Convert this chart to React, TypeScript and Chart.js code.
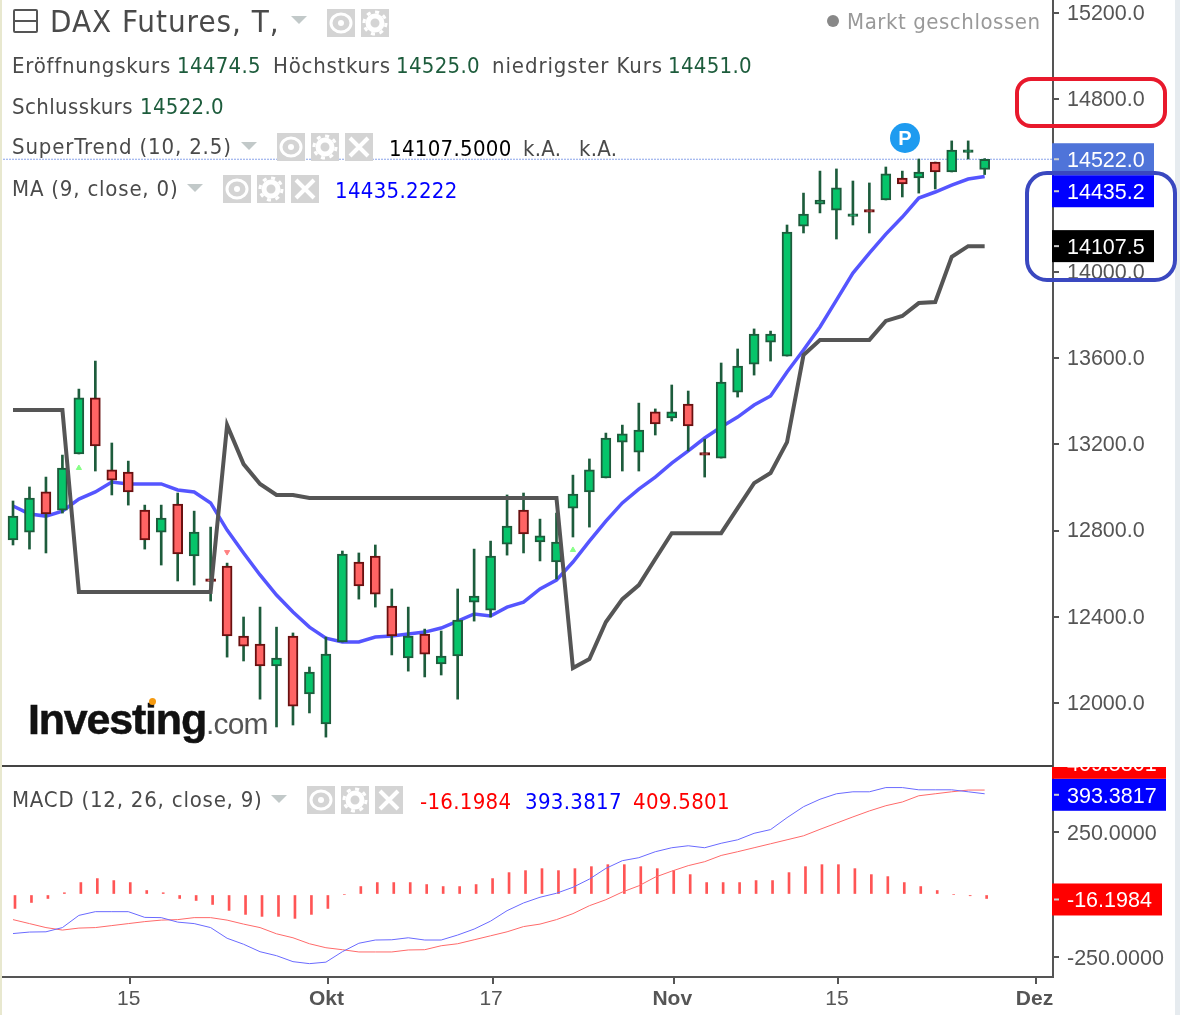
import React, { useEffect, useRef } from 'react';
import { Chart, registerables } from 'chart.js';

Chart.register(...registerables);

// daily candles
const opens = [12756, 12793, 12979, 12895, 13155, 13415, 13081, 13071, 12895, 12793, 12923, 12682, 12576, 12635, 12311, 12274, 12172, 12311, 12042, 11903, 12283, 12654, 12682, 12450, 12209, 12320, 12181, 12218, 12468, 12431, 12737, 12895, 12747, 12654, 12904, 12979, 13044, 13210, 13164, 13350, 13322, 13387, 13161, 13136, 13442, 13572, 13674, 13609, 14212, 14314, 14286, 14257, 14288, 14333, 14435, 14435, 14509, 14463, 14554, 14474.5];
const highs = [12937, 13002, 13048, 13150, 13456, 13586, 13206, 13122, 12918, 12918, 12974, 12890, 12816, 12649, 12399, 12445, 12352, 12325, 12167, 12306, 12705, 12696, 12733, 12529, 12445, 12343, 12334, 12529, 12714, 12751, 12965, 12974, 12853, 12881, 13057, 13132, 13252, 13289, 13391, 13364, 13475, 13447, 13224, 13577, 13642, 13735, 13725, 14217, 14365, 14467, 14477, 14421, 14412, 14486, 14467, 14523, 14509, 14607, 14607, 14525];
const lows = [12733, 12714, 12696, 12881, 13155, 13076, 12965, 12918, 12714, 12640, 12566, 12547, 12473, 12213, 12195, 12018, 11889, 11898, 11954, 11842, 12283, 12482, 12445, 12223, 12148, 12121, 12130, 12018, 12380, 12399, 12686, 12696, 12659, 12575, 12770, 12816, 13044, 13076, 13076, 13243, 13308, 13169, 13048, 13136, 13419, 13521, 13586, 13609, 14180, 14273, 14152, 14217, 14180, 14333, 14347, 14365, 14384, 14463, 14523, 14451];
const closes = [12867, 12951, 12877, 13090, 13415, 13192, 13034, 12979, 12756, 12858, 12691, 12793, 12564, 12311, 12264, 12172, 12209, 11986, 12144, 12227, 12691, 12543, 12505, 12311, 12311, 12227, 12218, 12385, 12496, 12682, 12821, 12784, 12775, 12747, 12969, 13081, 13229, 13248, 13266, 13294, 13350, 13285, 13149, 13489, 13563, 13711, 13711, 14184, 14268, 14333, 14389, 14269, 14276, 14454, 14407, 14463, 14463, 14565, 14566, 14522];

const superTrend = [13359, 13359, 13359, 13359, 12515, 12515, 12515, 12515, 12515, 12515, 12515, 12515, 12515, 13289, 13108, 13016, 12965, 12965, 12951, 12951, 12951, 12951, 12951, 12951, 12951, 12951, 12951, 12951, 12951, 12951, 12951, 12951, 12951, 12951, 12162, 12204, 12376, 12482, 12547, 12668, 12788, 12788, 12788, 12788, 12904, 13020, 13067, 13210, 13614, 13684, 13684, 13684, 13684, 13772, 13795, 13855, 13860, 14069, 14119, 14119];
const movingAvg = [12914, 12877, 12867, 12890, 12946, 12979, 13025, 13016, 13016, 13016, 12988, 12979, 12928, 12802, 12696, 12594, 12501, 12422, 12352, 12301, 12283, 12283, 12306, 12311, 12320, 12329, 12348, 12380, 12413, 12404, 12445, 12468, 12529, 12570, 12654, 12751, 12844, 12928, 12992, 13048, 13113, 13169, 13229, 13280, 13326, 13382, 13424, 13535, 13637, 13744, 13869, 13994, 14087, 14175, 14254, 14342, 14370, 14402, 14430, 14442];

const macdLine = [-157, -151, -150, -133, -84, -69, -69, -69, -92, -93, -111, -117, -133, -176, -200, -230, -246, -270, -278, -272, -230, -196, -183, -182, -174, -183, -183, -163, -139, -107, -65, -34, -11, 5, 29, 62, 105, 136, 148, 172, 188, 196, 188, 206, 220, 246, 261, 309, 353, 383, 405, 413, 413, 430, 430, 421, 421, 421, 413, 405];
const signalLine = [-101, -117, -133, -143, -135, -133, -125, -117, -109, -103, -101, -93, -93, -103, -119, -133, -158, -174, -198, -214, -222, -231, -231, -231, -223, -222, -206, -198, -182, -166, -150, -129, -119, -101, -77, -45, -21, 10, 35, 70, 94, 116, 132, 157, 172, 188, 204, 220, 236, 262, 287, 312, 336, 357, 372, 397, 405, 413, 420, 420];
const macdHist = [-56, -32, -16, 7, 48, 64, 56, 48, 16, 7, -16, -24, -40, -64, -80, -88, -88, -96, -80, -56, 0, 32, 48, 48, 48, 40, 32, 32, 40, 64, 88, 96, 104, 96, 104, 112, 120, 120, 112, 104, 96, 80, 48, 48, 48, 56, 56, 88, 112, 120, 120, 104, 80, 72, 48, 32, 16, 0, -5, -16];

const buyIdx = [4, 34];
const buyVal = [13090, 12710];
const sellIdx = [13];
const sellVal = [12700];

const xTickIdx = [7, 19, 29, 40, 50, 62];
const xTickLabels = ['15', 'Okt', '17', 'Nov', '15', 'Dez'];
const priceTicks = [12000, 12400, 12800, 13200, 13600, 14000, 14400, 14800, 15200];
const macdTicks = [-250, 0, 250];

const AXIS = '#555555';
const TICK_FONT = '"Liberation Sans", Arial, sans-serif';
const UI_FONT = '"DejaVu Sans Condensed", "DejaVu Sans", sans-serif';
const BAR_SHIFT = 0.12; // histogram and date ticks sit ~2px right of the candles

const last = (a: number[]) => a[a.length - 1];

const tagPlugin = {
  id: 'tags',
  afterDraw(chart: any) {
    const { ctx, scales } = chart;
    const drawGroup = (scale: any, tags: any[], right: number, dy: number) => {
      const placed: number[] = [];
      ctx.save();
      ctx.beginPath();
      ctx.rect(1052, scale.top + 1, 128, scale.bottom - scale.top);
      ctx.clip();
      tags.forEach((t) => {
        let y = scale.getPixelForValue(t.value) + dy;
        placed.forEach((p) => {
          if (Math.abs(y - p) < 32) y = y > p ? p + 32 : p - 32;
        });
        placed.push(y);
        ctx.fillStyle = t.bg;
        ctx.fillRect(1052, y - 16, (t.right || right) - 1052, 32);
        ctx.fillStyle = '#cccccc';
        ctx.fillRect(1054, y - 1, 5, 2);
        ctx.fillStyle = '#ffffff';
        ctx.font = '21.5px ' + TICK_FONT;
        ctx.textAlign = 'left';
        ctx.textBaseline = 'middle';
        ctx.fillText(t.text, 1067, y + 2);
      });
      ctx.restore();
    };
    drawGroup(scales.price, [
      { value: last(closes), text: '14522.0', bg: '#4f74d9' },
      { value: last(movingAvg), text: '14435.2', bg: '#0000ff' },
      { value: last(superTrend), text: '14107.5', bg: '#000000' },
    ], 1154, 0);
    drawGroup(scales.macd, [
      { value: last(macdHist), text: '-16.1984', bg: '#ff0000', right: 1162 },
      { value: last(macdLine), text: '393.3817', bg: '#0000ff' },
      { value: last(signalLine), text: '409.5801', bg: '#ff0000' },
    ], 1166, 1);
    ctx.fillStyle = '#444444';
    ctx.fillRect(0, scales.price.bottom - 1, 1053, 2);
  },
};

function Txt({ x, y, c = '#4a4a4a', s = 22, ls = 0.75, children }: any) {
  return (
    <div style={{ position: 'absolute', left: x, top: y - 18, height: 40, lineHeight: '40px', color: c, fontSize: s, letterSpacing: ls, fontFamily: UI_FONT, fontStretch: 'condensed', whiteSpace: 'nowrap' }}>
      {children}
    </div>
  );
}

function Tri({ x, y }: any) {
  return <div style={{ position: 'absolute', left: x, top: y, width: 0, height: 0, borderLeft: '8px solid transparent', borderRight: '8px solid transparent', borderTop: '8px solid #c2c9c9' }} />;
}

function IconBox({ x, y, kind }: any) {
  return (
    <svg style={{ position: 'absolute', left: x, top: y }} width={28} height={28}>
      <rect width={28} height={28} fill="#d4d4d4" />
      {kind === 'eye' && <ellipse cx={14} cy={14} rx={10} ry={9} fill="none" stroke="#fff" strokeWidth={3} />}
      {kind === 'eye' && <circle cx={14} cy={14} r={3} fill="#fff" />}
      {kind === 'gear' && <circle cx={14} cy={14} r={7} fill="none" stroke="#fff" strokeWidth={5} />}
      {kind === 'gear' && <circle cx={14} cy={14} r={11} fill="none" stroke="#fff" strokeWidth={3} strokeDasharray="4 4.6" />}
      {kind === 'x' && <path d="M5 5L23 23M23 5L5 23" stroke="#fff" strokeWidth={4} />}
    </svg>
  );
}

function Icons({ x, y, close = true }: any) {
  return (
    <>
      <IconBox x={x} y={y} kind="eye" />
      <IconBox x={x + 34} y={y} kind="gear" />
      {close && <IconBox x={x + 68} y={y} kind="x" />}
    </>
  );
}

export default function App() {
  const canvasRef = useRef<HTMLCanvasElement>(null);

  useEffect(() => {
    if (!canvasRef.current) return;
    const idx = opens.map((_, i) => i);
    const up = (i: number) => closes[i] >= opens[i];
    const xMin = -0.79;
    const xMax = 63.15;

    const chart = new Chart(canvasRef.current, {
      type: 'bar',
      data: {
        datasets: [
          {
            type: 'line',
            label: 'MA',
            yAxisID: 'price',
            data: idx.map((i) => ({ x: i, y: movingAvg[i] })),
            borderColor: '#5555ff',
            borderWidth: 3.5,
            pointRadius: 0,
            order: 6,
          },
          {
            type: 'line',
            label: 'Last',
            yAxisID: 'price',
            data: [{ x: xMin, y: last(closes) }, { x: xMax, y: last(closes) }],
            borderColor: '#8aa3ea',
            borderWidth: 1,
            borderDash: [2, 1],
            pointRadius: 0,
            order: 7,
          },
          {
            label: 'Wick',
            yAxisID: 'price',
            data: idx.map((i) => ({ x: i, y: [lows[i], highs[i]] })),
            backgroundColor: '#1d5c3c',
            barThickness: 2,
            grouped: false,
            order: 5,
          },
          {
            label: 'Body',
            yAxisID: 'price',
            data: idx.map((i) => ({ x: i, y: [opens[i], closes[i]] })),
            backgroundColor: idx.map((i) => (up(i) ? '#06c46a' : '#ff6464')),
            borderColor: idx.map((i) => (up(i) ? '#1d5c3c' : '#6a1010')),
            borderWidth: 2,
            borderSkipped: false,
            barThickness: 10,
            grouped: false,
            order: 4,
          },
          {
            type: 'line',
            label: 'SuperTrend',
            yAxisID: 'price',
            data: idx.map((i) => ({ x: i, y: superTrend[i] })),
            borderColor: '#555555',
            borderWidth: 4,
            pointRadius: 0,
            order: 3,
          },
          {
            type: 'line',
            label: 'Buy',
            yAxisID: 'price',
            data: buyIdx.map((v, i) => ({ x: v, y: buyVal[i] })),
            showLine: false,
            pointStyle: 'triangle',
            pointRadius: 3,
            pointBackgroundColor: '#86ff86',
            pointBorderColor: '#86ff86',
            order: 2,
          },
          {
            type: 'line',
            label: 'Sell',
            yAxisID: 'price',
            data: sellIdx.map((v, i) => ({ x: v, y: sellVal[i] })),
            showLine: false,
            pointStyle: 'triangle',
            pointRotation: 180,
            pointRadius: 3,
            pointBackgroundColor: '#ff8080',
            pointBorderColor: '#ff8080',
            order: 2,
          },
          {
            label: 'Hist',
            yAxisID: 'macd',
            data: idx.map((i) => ({ x: i + BAR_SHIFT, y: macdHist[i] })),
            backgroundColor: '#ff5555',
            barThickness: 2,
            grouped: false,
            order: 3,
          },
          {
            type: 'line',
            label: 'Signal',
            yAxisID: 'macd',
            data: idx.map((i) => ({ x: i, y: signalLine[i] })),
            borderColor: '#ff6a6a',
            borderWidth: 1,
            pointRadius: 0,
            order: 2,
          },
          {
            type: 'line',
            label: 'MACD',
            yAxisID: 'macd',
            data: idx.map((i) => ({ x: i, y: macdLine[i] })),
            borderColor: '#6a6aff',
            borderWidth: 1,
            pointRadius: 0,
            order: 1,
          },
        ],
      } as any,
      options: {
        animation: false,
        responsive: false,
        maintainAspectRatio: false,
        layout: { padding: 0, autoPadding: false },
        plugins: { legend: { display: false }, tooltip: { enabled: false } },
        scales: {
          x: {
            type: 'linear',
            offset: false,
            min: xMin,
            max: xMax,
            grid: { offset: false, drawOnChartArea: false, color: AXIS, tickLength: 7, lineWidth: 2 },
            border: { color: AXIS, width: 2 },
            afterBuildTicks: (s: any) => { s.ticks = xTickIdx.map((v) => ({ value: v + BAR_SHIFT })); },
            afterFit: (s: any) => { s.height = 38; s.paddingLeft = 0; s.paddingRight = 0; },
            ticks: {
              autoSkip: false,
              maxRotation: 0,
              padding: 3,
              labelOffset: -1.5,
              color: AXIS,
              font: (ctx: any) => {
                const label = xTickLabels[ctx.index];
                return { family: TICK_FONT, size: 21, weight: label && /[a-z]/.test(label) ? 'bold' : 'normal' };
              },
              callback: (_v: any, i: number) => xTickLabels[i] ?? '',
            },
          },
          price: {
            type: 'linear',
            position: 'right',
            stack: 'panels',
            stackWeight: 766,
            min: 11708,
            max: 15260.5,
            grid: { drawOnChartArea: false, color: AXIS, tickLength: 6, lineWidth: 2 },
            border: { color: AXIS, width: 2 },
            afterBuildTicks: (s: any) => { s.ticks = priceTicks.map((v) => ({ value: v })); },
            afterFit: (s: any) => { s.width = 127; s.paddingTop = 0; s.paddingBottom = 0; },
            ticks: { padding: 8, labelOffset: 1, color: AXIS, font: { family: TICK_FONT, size: 21.5 }, callback: (v: any) => Number(v).toFixed(1) },
          },
          macd: {
            type: 'linear',
            position: 'right',
            stack: 'panels',
            stackWeight: 211,
            min: -331.7,
            max: 516.7,
            grid: { drawOnChartArea: false, color: AXIS, tickLength: 6, lineWidth: 2 },
            border: { color: AXIS, width: 2 },
            afterBuildTicks: (s: any) => { s.ticks = macdTicks.map((v) => ({ value: v })); },
            afterFit: (s: any) => { s.width = 127; s.paddingTop = 0; s.paddingBottom = 0; },
            ticks: { padding: 8, labelOffset: 2, color: AXIS, font: { family: TICK_FONT, size: 21.5 }, callback: (v: any) => Number(v).toFixed(4) },
          },
        },
      },
      plugins: [tagPlugin],
    } as any);

    return () => {
      chart.destroy();
    };
  }, []);

  const GREEN = '#1d5c3c';
  return (
    <div style={{ position: 'absolute', left: 0, top: 0, width: 1180, height: 1015, overflow: 'hidden', background: '#fff' }}>
      <canvas ref={canvasRef} width={1180} height={1015} style={{ position: 'absolute', left: 0, top: 0 }} />

      <div style={{ position: 'absolute', left: 0, top: 0, width: 2, height: 1015, background: '#e8e8cf' }} />
      <div style={{ position: 'absolute', left: 1175, top: 0, width: 5, height: 1015, background: '#e6ebef' }} />

      <div style={{ position: 'absolute', left: 13, top: 9, width: 21, height: 20, border: '2px solid #555', borderRadius: 2 }}>
        <div style={{ position: 'absolute', left: 0, top: 9, width: 21, height: 2, background: '#555' }} />
      </div>
      <Txt x={50} y={19} s={31} ls={1}>DAX Futures, T,</Txt>
      <Tri x={291} y={16} />
      <Icons x={327} y={9} close={false} />
      <div style={{ position: 'absolute', left: 827, top: 15, width: 12, height: 12, borderRadius: 6, background: '#888' }} />
      <Txt x={847} y={20} c="#999" ls={0.55}>Markt geschlossen</Txt>

      <Txt x={12} y={64}>Eröffnungskurs</Txt>
      <Txt x={177} y={64} c={GREEN} ls={0.3}>14474.5</Txt>
      <Txt x={273} y={64}>Höchstkurs</Txt>
      <Txt x={396} y={64} c={GREEN} ls={0.3}>14525.0</Txt>
      <Txt x={492} y={64} ls={0.9}>niedrigster Kurs</Txt>
      <Txt x={668} y={64} c={GREEN} ls={0.3}>14451.0</Txt>

      <Txt x={12} y={105} ls={0.4}>Schlusskurs</Txt>
      <Txt x={140} y={105} c={GREEN} ls={0.3}>14522.0</Txt>

      <Txt x={12} y={145} ls={0.85}>SuperTrend (10, 2.5)</Txt>
      <Tri x={241} y={142} />
      <Icons x={277} y={133} />
      <Txt x={389} y={147} c="#000" ls={0.3}>14107.5000</Txt>
      <Txt x={523} y={147} ls={0.3}>k.A.</Txt>
      <Txt x={579} y={147} ls={0.3}>k.A.</Txt>

      <Txt x={12} y={187} ls={0.8}>MA (9, close, 0)</Txt>
      <Tri x={187} y={184} />
      <Icons x={223} y={175} />
      <Txt x={335} y={189} c="#0000ff" ls={0.3}>14435.2222</Txt>

      <Txt x={12} y={798} ls={0.78}>MACD (12, 26, close, 9)</Txt>
      <Tri x={271} y={795} />
      <Icons x={307} y={786} />
      <Txt x={420} y={800} c="#ff0000" ls={0.3}>-16.1984</Txt>
      <Txt x={525} y={800} c="#0000ff" ls={0.3}>393.3817</Txt>
      <Txt x={633} y={800} c="#ff0000" ls={0.3}>409.5801</Txt>

      <div style={{ position: 'absolute', left: 890, top: 123, width: 30, height: 30, borderRadius: 15, background: '#1e9bf0', color: '#fff', fontFamily: TICK_FONT, fontWeight: 'bold', fontSize: 20, lineHeight: '30px', textAlign: 'center' }}>P</div>

      <div style={{ position: 'absolute', left: 28, top: 694, color: '#111', fontFamily: TICK_FONT, fontWeight: 'bold', fontSize: 43, letterSpacing: -1.2, lineHeight: '50px', whiteSpace: 'nowrap', WebkitTextStroke: '0.5px #111' }}>
        Investing<span style={{ color: '#555', fontWeight: 'normal', fontSize: 30, letterSpacing: -0.8, WebkitTextStroke: '0' }}>.com</span>
      </div>
      <div style={{ position: 'absolute', left: 149, top: 698, width: 7, height: 7, borderRadius: 4, background: '#f59a10' }} />

      <div style={{ position: 'absolute', left: 1015, top: 77, width: 144, height: 43, border: '4px solid #e8192c', borderRadius: 16 }} />
      <div style={{ position: 'absolute', left: 1025, top: 171, width: 144, height: 103, border: '4px solid #3a48c0', borderRadius: 22 }} />
    </div>
  );
}
